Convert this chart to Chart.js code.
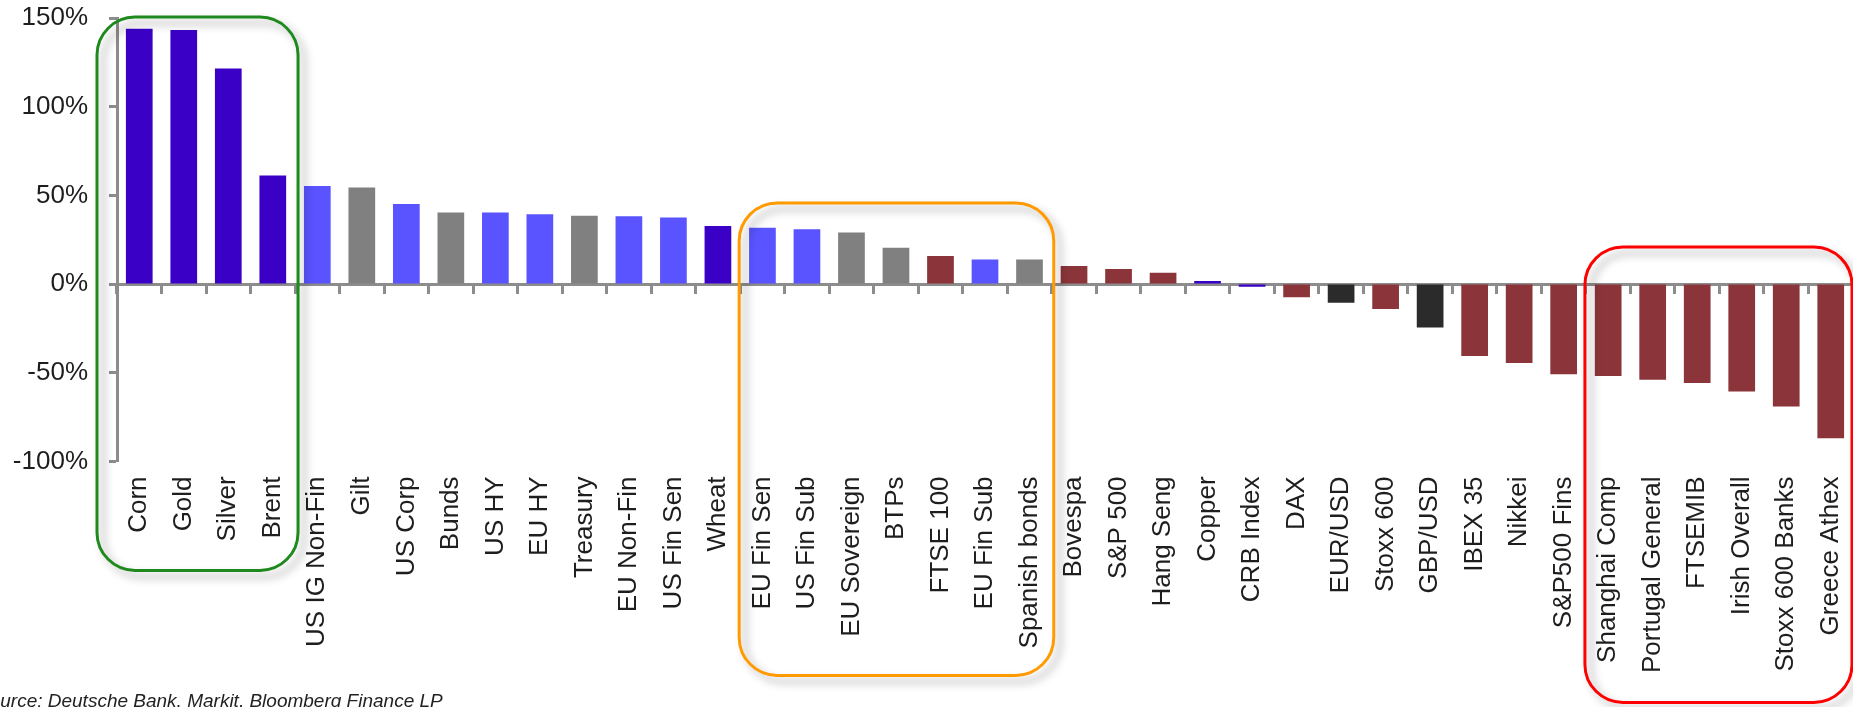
<!DOCTYPE html>
<html>
<head>
<meta charset="utf-8">
<script src="https://cdn.jsdelivr.net/npm/chart.js@4/dist/chart.umd.min.js"></script>
<style>
    html, body { margin: 0; padding: 0; background: #fff; overflow: hidden; }
    #wrap { position: relative; width: 1853px; height: 707px; }
    #source {
        position: absolute; left: -23px; top: 690px;
        font: italic 19px "Liberation Sans", Arial, sans-serif;
        color: #222; white-space: nowrap;
    }
</style>
</head>
<body>
<div id="wrap">
    <canvas id="graphCanvas" width="1853" height="707"></canvas>
    <div id="source">Source: Deutsche Bank, Markit, Bloomberg Finance LP</div>
</div>
<script>
// total return per asset, in %
var assets = ['Corn', 'Gold', 'Silver', 'Brent', 'US IG Non-Fin', 'Gilt', 'US Corp', 'Bunds', 'US HY', 'EU HY',
    'Treasury', 'EU Non-Fin', 'US Fin Sen', 'Wheat', 'EU Fin Sen', 'US Fin Sub', 'EU Sovereign', 'BTPs', 'FTSE 100',
    'EU Fin Sub', 'Spanish bonds', 'Bovespa', 'S&P 500', 'Hang Seng', 'Copper', 'CRB Index', 'DAX', 'EUR/USD',
    'Stoxx 600', 'GBP/USD', 'IBEX 35', 'Nikkei', 'S&P500 Fins', 'Shanghai Comp', 'Portugal General', 'FTSEMIB',
    'Irish Overall', 'Stoxx 600 Banks', 'Greece Athex'];

var returns = [144, 143.3, 121.5, 61.2, 55.3, 54.4, 45.1, 40.4, 40.4, 39.4,
    38.5, 38.2, 37.5, 32.8, 31.7, 30.9, 29, 20.5, 15.8,
    13.9, 13.9, 10.2, 8.5, 6.4, 1.7, -1.5, -7.5, -10.5,
    -14, -24.5, -40.5, -44.5, -50.9, -51.8, -53.9, -55.8,
    -60.5, -69, -86.9];

var assetClass = ['commodity', 'commodity', 'commodity', 'commodity', 'credit', 'govt', 'credit', 'govt', 'credit', 'credit',
    'govt', 'credit', 'credit', 'commodity', 'credit', 'credit', 'govt', 'govt', 'equity',
    'credit', 'govt', 'equity', 'equity', 'equity', 'commodity', 'commodity', 'equity', 'fx',
    'equity', 'fx', 'equity', 'equity', 'equity', 'equity', 'equity', 'equity',
    'equity', 'equity', 'equity'];

var yMin = -100;
var yMax = 150;
var yStep = 50;

var classColours = {
    commodity: '#3b00c6',
    credit: '#5954ff',
    govt: '#808080',
    equity: '#8b353a',
    fx: '#2b2b2b'
};
var axisGrey = '#8c8c8c';
var textColour = '#1e1e1e';
var fontFamily = '"Liberation Sans", Arial, sans-serif';

// rounded boxes drawn around groups of bars
var groupBoxes = [
    { first: 'Corn', last: 'Brent', topValue: 150.5, below: 109, padLeft: 20, padRight: 3, colour: '#1e8a1e' },
    { first: 'EU Fin Sen', last: 'Spanish bonds', topValue: 45.7, below: 214, padLeft: 1, padRight: 2, colour: '#ff9a00' },
    { first: 'Shanghai Comp', last: 'Greece Athex', topValue: 20.9, below: 241, padLeft: 1, padRight: -1, colour: '#ff0000' }
];

var boxPlugin = {
    id: 'groupBoxes',
    afterDatasetsDraw: function (chart) {
        var ctx = chart.ctx;
        var xs = chart.scales.x;
        var ys = chart.scales.y;
        var step = xs.getPixelForValue(1) - xs.getPixelForValue(0);
        groupBoxes.forEach(function (b) {
            var left = xs.getPixelForValue(assets.indexOf(b.first)) - step / 2 - b.padLeft;
            var right = xs.getPixelForValue(assets.indexOf(b.last)) + step / 2 + b.padRight;
            var top = ys.getPixelForValue(b.topValue);
            var bottom = chart.chartArea.bottom + b.below;
            var r = 38;
            ctx.save();
            ctx.shadowColor = 'rgba(0,0,0,0.35)';
            ctx.shadowBlur = 9;
            ctx.shadowOffsetX = 6;
            ctx.shadowOffsetY = 6;
            ctx.strokeStyle = b.colour;
            ctx.lineWidth = 3;
            ctx.beginPath();
            ctx.moveTo(left + r, top);
            ctx.arcTo(right, top, right, bottom, r);
            ctx.arcTo(right, bottom, left, bottom, r);
            ctx.arcTo(left, bottom, left, top, r);
            ctx.arcTo(left, top, right, top, r);
            ctx.closePath();
            ctx.stroke();
            ctx.restore();
        });
    }
};

var chartdata = {
    labels: assets,
    datasets: [
        {
            data: returns,
            backgroundColor: assetClass.map(function (c) { return classColours[c]; }),
            borderWidth: 0,
            barPercentage: 0.6,
            categoryPercentage: 1
        }
    ]
};

var graphTarget = document.getElementById('graphCanvas');

var barGraph = new Chart(graphTarget, {
    type: 'bar',
    data: chartdata,
    options: {
        responsive: false,
        animation: false,
        layout: { padding: { left: 13, top: 0, right: 0, bottom: 19 } },
        plugins: {
            legend: { display: false },
            tooltip: { enabled: false }
        },
        scales: {
            x: {
                position: { y: 0 },
                offset: true,
                grid: { offset: true, drawOnChartArea: false, drawTicks: true, tickLength: 8, tickWidth: 3, tickColor: axisGrey },
                border: { display: true, color: axisGrey, width: 3 },
                ticks: { display: false }
            },
            x2: {
                type: 'category',
                position: 'bottom',
                offset: true,
                grid: { display: false, drawTicks: false },
                border: { display: false },
                ticks: {
                    autoSkip: false,
                    minRotation: 90,
                    maxRotation: 90,
                    padding: 15,
                    color: textColour,
                    font: { size: 26, family: fontFamily }
                },
                afterFit: function (scale) {
                    scale.paddingLeft = 0;
                    scale.paddingRight = 0;
                }
            },
            y: {
                min: yMin,
                max: yMax,
                grid: { drawOnChartArea: false, drawTicks: true, tickLength: 8, tickWidth: 3, tickColor: axisGrey },
                border: { display: true, color: axisGrey, width: 3 },
                ticks: {
                    stepSize: yStep,
                    padding: 21,
                    color: textColour,
                    font: { size: 26, family: fontFamily },
                    callback: function (v) { return v + '%'; }
                },
                afterFit: function (scale) {
                    scale.width = 104;
                    scale.paddingTop = 18;
                    scale.paddingBottom = 0;
                }
            }
        }
    },
    plugins: [boxPlugin]
});
</script>
</body>
</html>
